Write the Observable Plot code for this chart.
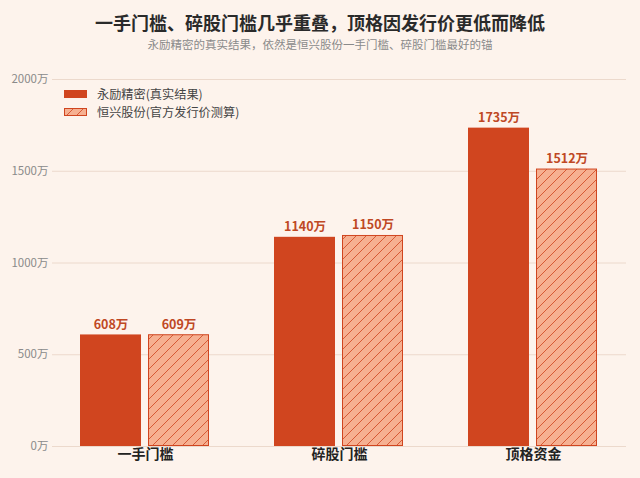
<!DOCTYPE html>
<html><head><meta charset="utf-8">
<script src="https://cdn.jsdelivr.net/npm/d3@7"></script>
<script src="https://cdn.jsdelivr.net/npm/@observablehq/plot@0.6"></script>
<style>
body{margin:0;background:#fdf3ec;font-family:"Noto Sans CJK SC","Noto Sans",sans-serif;}
#wrap{position:relative;width:640px;height:478px;overflow:hidden;background:#fdf3ec;}
#title{position:absolute;left:0;width:640px;top:9px;line-height:26px;text-align:center;font-size:18px;font-weight:bold;color:#2a2a2a;}
#sub{position:absolute;left:0;width:640px;top:36px;line-height:16px;text-align:center;font-size:11.5px;color:#8a8a8a;}
#grid,#chart{position:absolute;left:0;top:60px;}
#legend{position:absolute;left:64px;top:85px;font-size:12.2px;color:#444;}
.row{display:flex;align-items:center;height:18px;}
.row span{line-height:14px;}
.row svg{margin-right:10px;}
</style></head><body>
<div id="wrap">
<div id="title">一手门槛、碎股门槛几乎重叠，顶格因发行价更低而降低</div>
<div id="sub">永励精密的真实结果，依然是恒兴股份一手门槛、碎股门槛最好的锚</div>
<div id="grid"></div>
<div id="chart"></div>
<div id="legend"></div>
</div>
<script>
const categories = ["一手门槛","碎股门槛","顶格资金"];
const seriesNames = ["永励精密(真实结果)","恒兴股份(官方发行价测算)"];
const realValues = [608,1140,1735];
const estValues = [609,1150,1512];
const yTicks = [0,500,1000,1500,2000];

const data = categories.flatMap((c,i)=>[
  {cat:c, series:seriesNames[0], value:realValues[i]},
  {cat:c, series:seriesNames[1], value:estValues[i]}
]);
const solid = "#d0451f";
const common = {
  width:640, height:418,
  marginTop:19, marginBottom:32, marginLeft:52, marginRight:14,
  style:{background:"transparent", fontFamily:"'Noto Sans CJK SC', sans-serif", overflow:"visible"}
};

const gridPlot = Plot.plot({
  ...common,
  y:{domain:[0,2000], label:null},
  marks:[
    Plot.gridY(yTicks,{stroke:"#ecd9cc", strokeOpacity:1}),
    Plot.axisY({ticks:yTicks, tickFormat:d=>d+"万", tickSize:0, tickPadding:4, fontSize:11.5, color:"#8a8a8a", label:null})
  ]
});
document.getElementById("grid").appendChild(gridPlot);

const chart = Plot.plot({
  ...common,
  fx:{domain:categories, paddingInner:0.328, paddingOuter:0.136, label:null},
  x:{domain:seriesNames, paddingInner:0.1014, paddingOuter:0, axis:null},
  y:{domain:[0,2000], label:null, axis:null},
  marks:[
    Plot.axisFx({anchor:"bottom", tickSize:0, tickPadding:3, fontSize:14, fontWeight:"bold", color:"#222", label:null}),
    Plot.barY(data.filter(d=>d.series===seriesNames[0]),{fx:"cat", x:"series", y:"value", fill:solid}),
    Plot.barY(data.filter(d=>d.series===seriesNames[1]),{fx:"cat", x:"series", y:"value", fill:"url(#hatch)", stroke:solid, strokeWidth:1, inset:0.5}),
    Plot.text(data,{fx:"cat", x:"series", y:"value", text:d=>d.value+"万", dy:-6, lineAnchor:"bottom", fill:"#bf4824", fontWeight:"bold", fontSize:12.5})
  ]
});

const ns = "http://www.w3.org/2000/svg";
const defs = document.createElementNS(ns,"defs");
defs.innerHTML = `<pattern id="hatch" patternUnits="userSpaceOnUse" width="10" height="10">
<rect width="10" height="10" fill="#f6b091"/>
<path d="M-1,1 L1,-1 M0,10 L10,0 M9,11 L11,9" stroke="#d65a35" stroke-width="1"/>
</pattern>`;
chart.insertBefore(defs, chart.firstChild);
document.getElementById("chart").appendChild(chart);

const legend = document.getElementById("legend");
seriesNames.forEach((s,i)=>{
  const row = document.createElement("div");
  row.className = "row";
  row.innerHTML = i===0
    ? `<svg width="23" height="8"><rect width="23" height="8" fill="${solid}"/></svg><span>${s}</span>`
    : `<svg width="23" height="8"><rect x="0.5" y="0.5" width="22" height="7" fill="url(#hatch)" stroke="${solid}"/></svg><span>${s}</span>`;
  legend.appendChild(row);
});
</script>
</body></html>
